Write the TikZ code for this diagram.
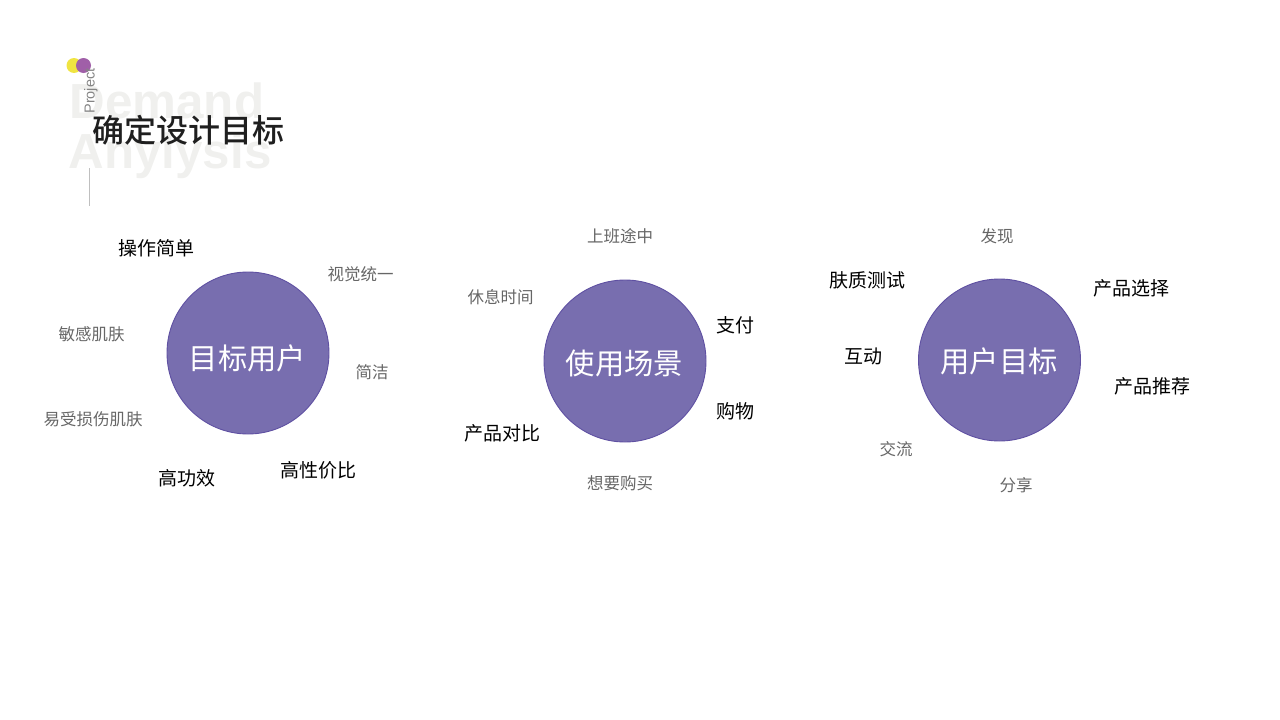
\documentclass[tikz,border=0pt]{standalone}
\usepackage{fontspec}
\usepackage{tikz}
\setmainfont{Liberation Sans}
\newfontfamily\cjk{Noto Sans CJK SC}
\newfontfamily\cjkmedium{Noto Sans CJK SC Medium}
\definecolor{circlefill}{HTML}{786EAF}
\definecolor{circleline}{HTML}{5F50A2}
\definecolor{graytext}{HTML}{666666}
\definecolor{ghosttext}{HTML}{F0F0EE}
\definecolor{dotyellow}{HTML}{F0E442}
\definecolor{dotpurple}{HTML}{A05FA8}
\tikzset{
    goalcircle/.style={circle,draw=circleline,line width=0.9pt,fill=circlefill,minimum size=162pt,inner sep=0pt},
    goalname/.style={inner sep=0pt,text=white,font=\cjk\fontsize{29.3}{31}\selectfont},
    darklabel/.style={inner sep=0pt,text=black,font=\cjk\fontsize{19}{21}\selectfont},
    graylabel/.style={inner sep=0pt,text=graytext,font=\cjk\fontsize{16.5}{18}\selectfont},
    ghostword/.style={inner sep=0pt,anchor=base west,text=ghosttext,font=\bfseries\fontsize{49.3}{51}\selectfont},
}
\begin{document}
\begin{tikzpicture}[x=1pt,y=-1pt]
        \useasboundingbox (0,0) rectangle (1280,720);
        % header
        \fill[dotyellow] (74,65.5) circle (7.5);
        \fill[dotpurple] (83.5,65.5) circle (7.5);
        \node[ghostword] (demand) at (69.5,118.5) {Demand};
        \node[ghostword] (anylysis) at (68.5,168) {Anylysis};
        \node[inner sep=0pt,rotate=90,text=graytext!80,font=\fontsize{14.5}{16}\selectfont] (project) at (91,91) {Project};
        \node[inner sep=0pt,text=black!88,font=\cjkmedium\fontsize{32}{34}\selectfont] (title) at (188.5,130) {确定设计目标};
        \draw[black!25,line width=0.8pt] (89.5,168) -- (89.5,206);
        % first circle
        \node[goalcircle] (users) at (248,353) {};
        \node[goalname] (usersname) at (247.5,358) {目标用户};
        \node[darklabel] (easy) at (156.5,248) {操作简单};
        \node[graylabel] (visual) at (360.5,274) {视觉统一};
        \node[graylabel] (sensitive) at (91.5,334) {敏感肌肤};
        \node[graylabel] (simple) at (372,372) {简洁};
        \node[graylabel] (damaged) at (93,419.5) {易受损伤肌肤};
        \node[darklabel] (effect) at (186.5,478) {高功效};
        \node[darklabel] (value) at (318,470) {高性价比};
        % second circle
        \node[goalcircle] (scenes) at (625,361) {};
        \node[goalname] (scenesname) at (624.5,363) {使用场景};
        \node[graylabel] (commute) at (620,236) {上班途中};
        \node[graylabel] (rest) at (500.5,297) {休息时间};
        \node[darklabel] (pay) at (735,325) {支付};
        \node[darklabel] (shop) at (735,411) {购物};
        \node[darklabel] (compare) at (502.5,433) {产品对比};
        \node[graylabel] (wish) at (620,483.5) {想要购买};
        % third circle
        \node[goalcircle] (goals) at (999.5,360) {};
        \node[goalname] (goalsname) at (999,361) {用户目标};
        \node[graylabel] (discover) at (997,236) {发现};
        \node[darklabel] (skintest) at (867.5,280) {肤质测试};
        \node[darklabel] (choose) at (1131,288) {产品选择};
        \node[darklabel] (interact) at (863,356) {互动};
        \node[darklabel] (recommend) at (1152,386) {产品推荐};
        \node[graylabel] (talk) at (896,449) {交流};
        \node[graylabel] (sharing) at (1016,485.5) {分享};
\end{tikzpicture}
\end{document}
